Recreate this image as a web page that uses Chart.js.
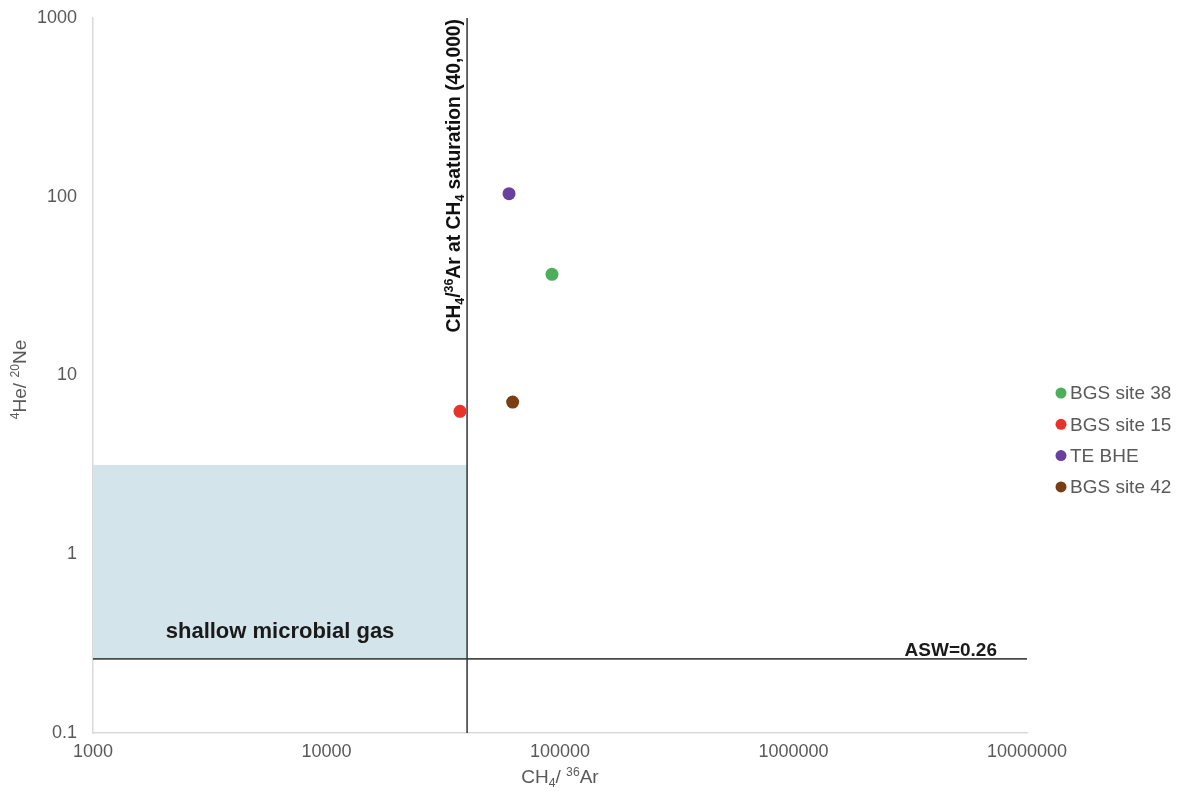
<!DOCTYPE html>
<html>
<head>
<meta charset="utf-8">
<script src="https://cdn.jsdelivr.net/npm/chart.js@4"></script>
<style>
  html, body { margin: 0; padding: 0; background: #ffffff; }
  #wrap { width: 1181px; height: 792px; }
</style>
</head>
<body>
<div id="wrap"><canvas id="c" width="1181" height="792"></canvas></div>
<script>
// Sample sites: CH4/36Ar against 4He/20Ne
const seriesNames  = ['BGS site 38', 'BGS site 15', 'TE BHE', 'BGS site 42'];
const seriesColors = ['#4CAF5A', '#E8332A', '#6B3FA0', '#7A3E14'];
const ch4Ar36      = [92400, 37300, 60500, 62700];
const he4Ne20      = [36.8, 6.3, 104, 7.1];

const xTickValues = [1000, 10000, 100000, 1000000, 10000000];
const xTickLabels = ['1000', '10000', '100000', '1000000', '10000000'];
const yTickValues = [0.1, 1, 10, 100, 1000];
const yTickLabels = ['0.1', '1', '10', '100', '1000'];

// Reference values
const aswRatio = 0.26;          // air-saturated water 4He/20Ne
const saturationRatio = 40000;  // CH4/36Ar at CH4 saturation
const microbialTopHeNe = 3.16;  // upper bound of the shallow microbial field

const FONT = '"Liberation Sans", Arial, Helvetica, sans-serif';
const GREY_TEXT = '#595959';

// Draws text with superscript / subscript runs; returns its width
function richWidth(ctx, parts, size, weight) {
  let w = 0;
  for (const p of parts) {
    const s = p.m ? size * 0.64 : size;
    ctx.font = `${weight} ${s}px ${FONT}`;
    w += ctx.measureText(p.t).width;
  }
  return w;
}
function drawRich(ctx, parts, x, y, size, weight, color) {
  let cx = x;
  ctx.fillStyle = color;
  ctx.textAlign = 'left';
  ctx.textBaseline = 'alphabetic';
  for (const p of parts) {
    const s = p.m ? size * 0.64 : size;
    ctx.font = `${weight} ${s}px ${FONT}`;
    const dy = p.m === 'sup' ? -size * 0.38 : (p.m === 'sub' ? size * 0.2 : 0);
    ctx.fillText(p.t, cx, y + dy);
    cx += ctx.measureText(p.t).width;
  }
}

const xTitleParts = [{t: 'CH'}, {t: '4', m: 'sub'}, {t: '/ '}, {t: '36', m: 'sup'}, {t: 'Ar'}];
const yTitleParts = [{t: '4', m: 'sup'}, {t: 'He/ '}, {t: '20', m: 'sup'}, {t: 'Ne'}];
const satLabelParts = [{t: 'CH'}, {t: '4', m: 'sub'}, {t: '/'}, {t: '36', m: 'sup'},
  {t: 'Ar at CH'}, {t: '4', m: 'sub'}, {t: ' saturation (40,000)'}];

// Shaded field and reference lines, drawn beneath the points
const referencePlugin = {
  id: 'referenceLines',
  beforeDatasetsDraw(chart) {
    const {ctx, scales: {x, y}} = chart;
    const xSat = x.getPixelForValue(saturationRatio);
    const yAsw = y.getPixelForValue(aswRatio);
    const yTop = y.getPixelForValue(microbialTopHeNe);
    const xMin = x.getPixelForValue(x.min);
    ctx.save();
    ctx.fillStyle = '#D3E4EB';
    ctx.fillRect(xMin, yTop, xSat - xMin, yAsw - yTop);

    ctx.strokeStyle = '#4A4A4A';
    ctx.lineWidth = 1.8;
    ctx.beginPath();
    ctx.moveTo(xMin, yAsw);
    ctx.lineTo(x.getPixelForValue(x.max), yAsw);
    ctx.stroke();

    ctx.strokeStyle = '#333333';
    ctx.lineWidth = 1.5;
    ctx.beginPath();
    ctx.moveTo(xSat, y.getPixelForValue(y.max));
    ctx.lineTo(xSat, y.getPixelForValue(y.min));
    ctx.stroke();
    ctx.restore();
  },
  afterDraw(chart) {
    const {ctx, chartArea: a, scales: {x, y}} = chart;
    const xSat = x.getPixelForValue(saturationRatio);
    const yAsw = y.getPixelForValue(aswRatio);
    const xMin = x.getPixelForValue(x.min);
    ctx.save();

    // field label
    ctx.fillStyle = '#1A1A1A';
    ctx.font = `bold 22px ${FONT}`;
    ctx.textAlign = 'center';
    ctx.textBaseline = 'alphabetic';
    ctx.fillText('shallow microbial gas', (xMin + xSat) / 2, yAsw - 21);

    // ASW label
    ctx.font = `bold 19px ${FONT}`;
    ctx.textAlign = 'right';
    ctx.fillText('ASW=0.' + String(Math.round(aswRatio * 100)), a.right - 30, yAsw - 3);

    // vertical saturation label, reading upward, ending at the top of the plot
    ctx.save();
    ctx.translate(xSat - 7, a.top + 1);
    ctx.rotate(-Math.PI / 2);
    const wSat = richWidth(ctx, satLabelParts, 19.3, 'bold');
    drawRich(ctx, satLabelParts, -wSat, 0, 19.3, 'bold', '#111111');
    ctx.restore();

    // axis titles
    const wx = richWidth(ctx, xTitleParts, 19, 'normal');
    drawRich(ctx, xTitleParts, (a.left + a.right) / 2 - wx / 2, 783, 19, 'normal', GREY_TEXT);

    ctx.save();
    ctx.translate(26, (a.top + a.bottom) / 2 + 4);
    ctx.rotate(-Math.PI / 2);
    const wy = richWidth(ctx, yTitleParts, 19, 'normal');
    drawRich(ctx, yTitleParts, -wy / 2, 0, 19, 'normal', GREY_TEXT);
    ctx.restore();

    // legend
    ctx.textAlign = 'left';
    ctx.textBaseline = 'middle';
    ctx.font = `19px ${FONT}`;
    chart.data.datasets.forEach((ds, i) => {
      const cy = 393 + i * 31.3;
      ctx.fillStyle = ds.backgroundColor;
      ctx.beginPath();
      ctx.arc(1061, cy, 5.5, 0, Math.PI * 2);
      ctx.fill();
      ctx.fillStyle = GREY_TEXT;
      ctx.fillText(ds.label, 1070, cy + 1);
    });
    ctx.restore();
  }
};

const datasets = seriesNames.map((name, i) => ({
  label: name,
  data: [{x: ch4Ar36[i], y: he4Ne20[i]}],
  backgroundColor: seriesColors[i],
  borderColor: seriesColors[i],
  borderWidth: 0,
  pointRadius: 6.5,
  pointHoverRadius: 6.5
}));

const axisCommon = {
  type: 'logarithmic',
  grid: { display: false, drawTicks: false },
  border: { display: true, color: '#D9D9D9', width: 1.5 },
};

new Chart(document.getElementById('c'), {
  type: 'scatter',
  data: { datasets },
  options: {
    responsive: false,
    animation: false,
    devicePixelRatio: 1,
    layout: { padding: { top: 18, right: 154, left: 0, bottom: 0 } },
    plugins: {
      legend: { display: false },
      tooltip: { enabled: false }
    },
    scales: {
      x: {
        ...axisCommon,
        min: xTickValues[0],
        max: xTickValues[xTickValues.length - 1],
        afterBuildTicks: s => { s.ticks = xTickValues.map(v => ({value: v})); },
        afterFit: s => { s.height = 59; s.paddingLeft = 0; s.paddingRight = 0; },
        ticks: {
          autoSkip: false, maxRotation: 0, padding: 8,
          color: GREY_TEXT, font: { family: FONT, size: 18 },
          callback: v => xTickLabels[xTickValues.indexOf(v)]
        }
      },
      y: {
        ...axisCommon,
        min: yTickValues[0],
        max: yTickValues[yTickValues.length - 1],
        afterBuildTicks: s => { s.ticks = yTickValues.map(v => ({value: v})); },
        afterFit: s => { s.width = 93; s.paddingTop = 0; s.paddingBottom = 0; },
        ticks: {
          autoSkip: false, padding: 16,
          color: GREY_TEXT, font: { family: FONT, size: 18 },
          callback: v => yTickLabels[yTickValues.indexOf(v)]
        }
      }
    }
  },
  plugins: [referencePlugin]
});
</script>
</body>
</html>
